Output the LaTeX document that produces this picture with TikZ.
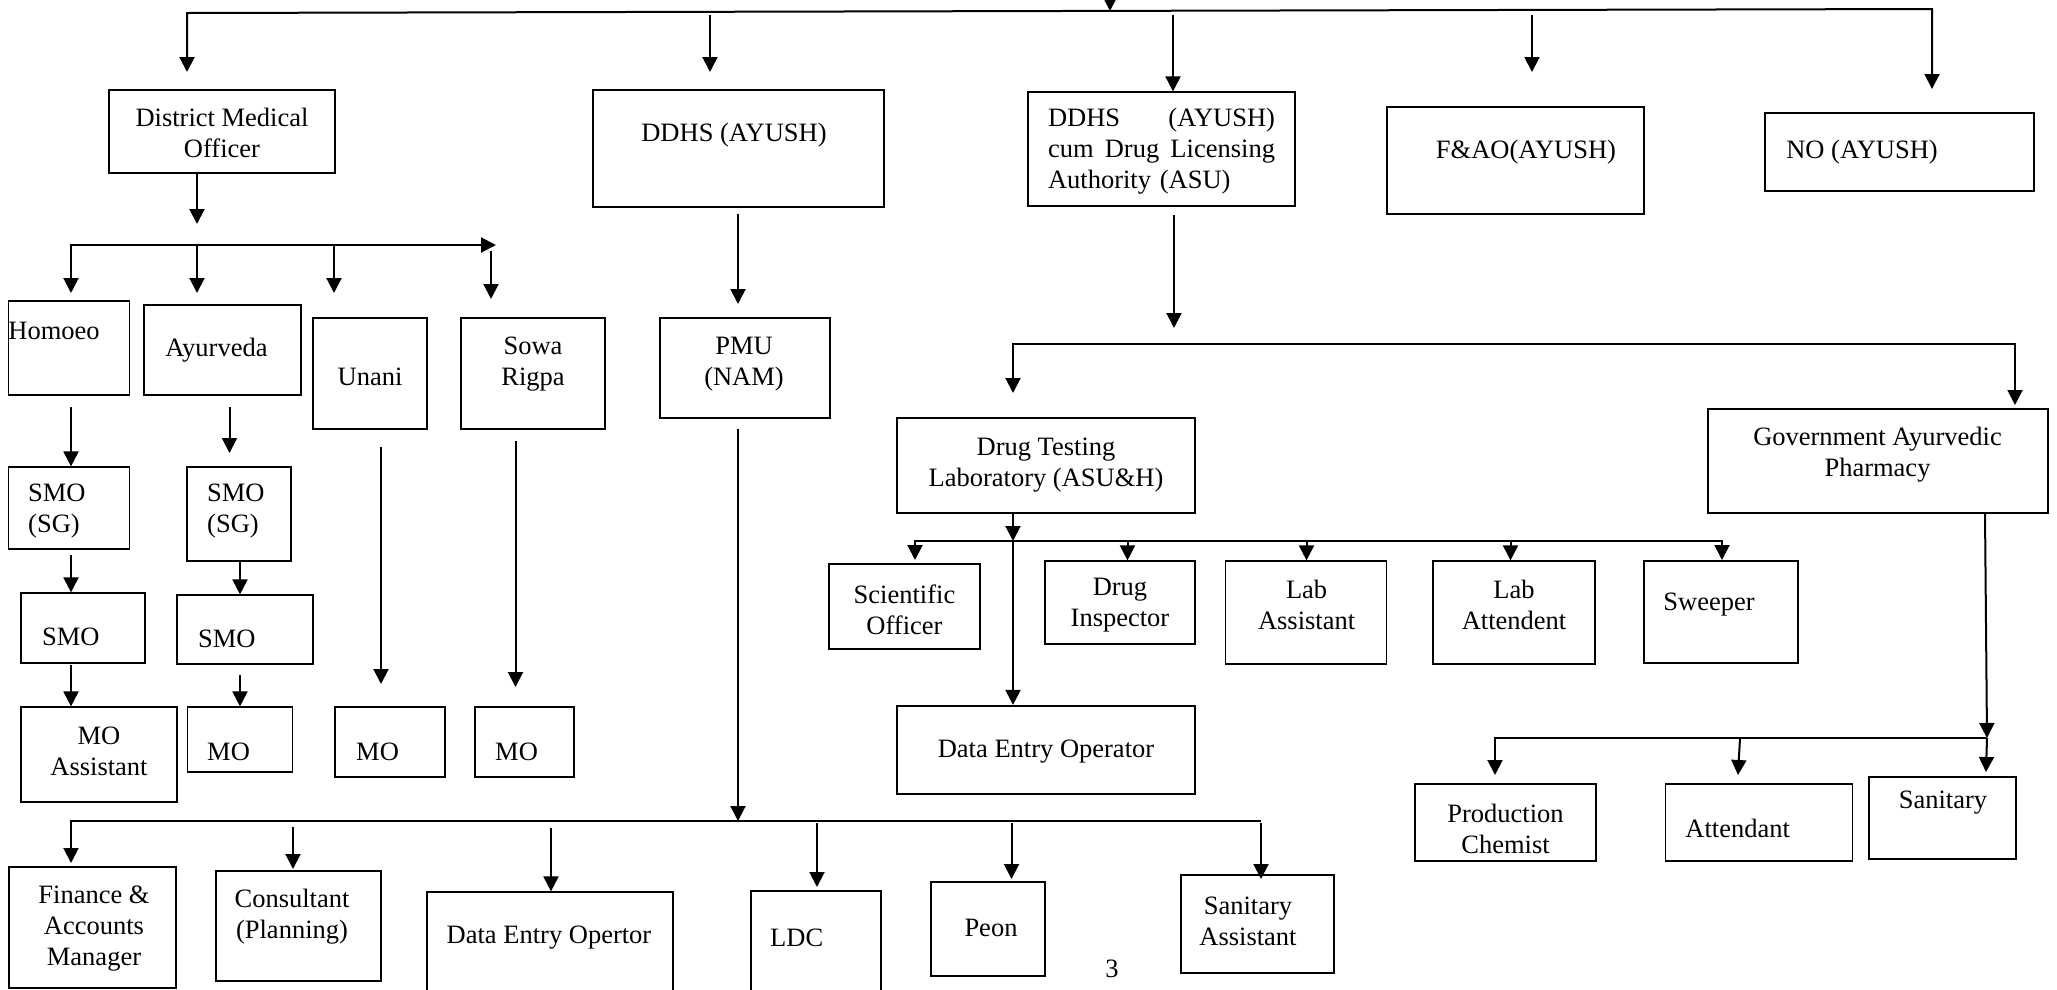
\documentclass[tikz,border=0pt]{standalone}
\usepackage{fontspec}
\setmainfont{Liberation Serif}
\usepackage{tikz}
\usetikzlibrary{arrows.meta}

\begin{document}
\begin{tikzpicture}[x=1pt, y=-1pt,
    box/.style={draw, line width=1.2pt, inner sep=0pt},
    txt/.style={inner sep=0pt, align=center, font=\fontsize{26.5}{31}\selectfont},
    link/.style={line width=2pt},
    arr/.style={line width=2pt, -{Triangle[length=15pt, width=15pt]}},
    arrs/.style={line width=2pt, {Triangle[length=15pt, width=15pt]}-{Triangle[length=15pt, width=15pt]}}]

    \useasboundingbox (0,0) rectangle (2057,989);

    % top row
    \node[box, minimum width=226pt, minimum height=83pt] (dmo) at (222,131.5) {};
    \node[box, minimum width=291pt, minimum height=117pt] (ddhs) at (738.5,148.5) {};
    \node[box, minimum width=267pt, minimum height=114pt] (cum) at (1161.5,149) {};
    \node[box, minimum width=257pt, minimum height=107pt] (fao) at (1515.5,160.5) {};
    \node[box, minimum width=269pt, minimum height=78pt] (nodal) at (1899.5,152) {};
    \node[txt] (dmol) at (222,132.5) {District Medical\\Officer};
    \node[txt] (ddhsl) at (734,135) {DDHS (AYUSH)};
    \node[txt, align=left, text width=227pt] (cuml) at (1161.5,151)
        {\makebox[227pt][l]{DDHS\hfill(AYUSH)}\\\makebox[227pt][l]{cum\hfill Drug\hfill Licensing}\\Authority (ASU)};
    \node[txt] (faol) at (1526,152) {F\&AO(AYUSH)};
    \node[txt] (nodall) at (1862,152) {NO (AYUSH)};

    % systems under DMO
    \node[box, minimum width=121pt, minimum height=94pt] (homoeo) at (69,348) {};
    \node[box, minimum width=157pt, minimum height=90pt] (ayur) at (222.5,350) {};
    \node[box, minimum width=114pt, minimum height=111pt] (unani) at (370,373.5) {};
    \node[box, minimum width=144pt, minimum height=111pt] (sowa) at (533,373.5) {};
    \node[box, minimum width=170pt, minimum height=100pt] (pmu) at (745,368) {};
    \node[txt] (homoeol) at (54,331) {Homoeo};
    \node[txt] (ayurl) at (216.5,350) {Ayurveda};
    \node[txt] (unanil) at (370,377) {Unani};
    \node[txt] (sowal) at (533,364) {Sowa\\Rigpa};
    \node[txt] (pmul) at (744,364) {PMU\\(NAM)};

    \node[box, minimum width=121pt, minimum height=82pt] (sg1) at (69,508) {};
    \node[box, minimum width=104pt, minimum height=94pt] (sg2) at (239,514) {};
    \node[box, minimum width=124pt, minimum height=70pt] (smo1) at (83,628) {};
    \node[box, minimum width=136pt, minimum height=69pt] (smo2) at (245,629.5) {};
    \node[box, minimum width=156pt, minimum height=95pt] (moa) at (99,754.5) {};
    \node[box, minimum width=105pt, minimum height=65pt] (mo1) at (240,739.5) {};
    \node[box, minimum width=110pt, minimum height=70pt] (mo2) at (390,742) {};
    \node[box, minimum width=99pt, minimum height=70pt] (mo3) at (524.5,742) {};
    \node[txt, anchor=west, align=left] (sg1l) at (28,511) {SMO\\(SG)};
    \node[txt, anchor=west, align=left] (sg2l) at (207,511) {SMO\\(SG)};
    \node[txt, anchor=west] (smo1l) at (42,637) {SMO};
    \node[txt, anchor=west] (smo2l) at (198,639) {SMO};
    \node[txt] (moal) at (99,751) {MO\\Assistant};
    \node[txt, anchor=west] (mo1l) at (207,752) {MO};
    \node[txt, anchor=west] (mo2l) at (356,752) {MO};
    \node[txt, anchor=west] (mo3l) at (495,752) {MO};

    % staff under PMU
    \node[box, minimum width=167pt, minimum height=121pt] (fin) at (92.5,927.5) {};
    \node[box, minimum width=165pt, minimum height=110pt] (cons) at (298.5,926) {};
    \node[box, minimum width=246pt, minimum height=118pt] (deob) at (550,951) {};
    \node[box, minimum width=130pt, minimum height=119pt] (ldc) at (816,950.5) {};
    \node[box, minimum width=114pt, minimum height=94pt] (peon) at (988,929) {};
    \node[box, minimum width=153pt, minimum height=98pt] (sana) at (1257.5,924) {};
    \node[txt] (finl) at (94,929) {Finance \&\\Accounts\\Manager};
    \node[txt] (consl) at (292,917) {Consultant\\(Planning)};
    \node[txt] (deobl) at (549,938) {Data Entry Opertor};
    \node[txt, anchor=west] (ldcl) at (770,938) {LDC};
    \node[txt] (peonl) at (991,928) {Peon};
    \node[txt] (sanal) at (1248,921) {Sanitary\\Assistant};
    \node[txt] (page) at (1112,969) {3};

    % drug testing and pharmacy
    \node[box, minimum width=298pt, minimum height=95pt] (dtl) at (1046,465.5) {};
    \node[box, minimum width=340pt, minimum height=104pt] (gap) at (1878,461) {};
    \node[box, minimum width=151pt, minimum height=85pt] (sci) at (904.5,606.5) {};
    \node[box, minimum width=150pt, minimum height=83pt] (dins) at (1120,602.5) {};
    \node[box, minimum width=161pt, minimum height=103pt] (lasst) at (1306,612.5) {};
    \node[box, minimum width=162pt, minimum height=103pt] (latt) at (1514,612.5) {};
    \node[box, minimum width=154pt, minimum height=102pt] (swp) at (1721,612) {};
    \node[box, line width=2.2pt, minimum width=298pt, minimum height=88pt] (deo) at (1046,750) {};
    \node[box, minimum width=181pt, minimum height=77pt] (chem) at (1505.5,822.5) {};
    \node[box, minimum width=187pt, minimum height=77pt] (att) at (1759,822.5) {};
    \node[box, minimum width=147pt, minimum height=82pt] (san) at (1942.5,818) {};
    \node[txt] (dtll) at (1046,465) {Drug Testing\\Laboratory (ASU\&H)};
    \node[txt] (gapl) at (1877.5,455) {Government Ayurvedic\\Pharmacy};
    \node[txt] (scil) at (904.5,610) {Scientific\\Officer};
    \node[txt] (dinsl) at (1120,605) {Drug\\Inspector};
    \node[txt] (lasstl) at (1306.6,605) {Lab\\Assistant};
    \node[txt] (lattl) at (1514,605) {Lab\\Attendent};
    \node[txt] (swpl) at (1709,605) {Sweeper};
    \node[txt] (deol) at (1046,752) {Data Entry Operator};
    \node[txt] (cheml) at (1505.5,829) {Production\\Chemist};
    \node[txt] (attl) at (1737.7,828) {Attendant};
    \node[txt] (sanl) at (1943,803) {Sanitary};

    % connectors, top row
    \coordinate (in) at (1110,-20);
    \coordinate (jT) at (1110,11);
    \coordinate (jL) at (187,13);
    \coordinate (jR) at (1932,9);
    \coordinate (dmoIn) at (187,72);
    \coordinate (nodalIn) at (1932,89);
    \draw[arr] (in) -- (jT);
    \draw[arrs] (dmoIn) -- (jL) -- (jR) -- (nodalIn);
    \coordinate (ddhsS) at (710,15);
    \coordinate (ddhsIn) at (710,72);
    \coordinate (cumS) at (1173,15);
    \coordinate (faoS) at (1532,15);
    \coordinate (faoIn) at (1532,72);
    \draw[arr] (ddhsS) -- (ddhsIn);
    \draw[arr] (cumS) -- (cumS |- cum.north);
    \draw[arr] (faoS) -- (faoIn);

    % connectors under DMO
    \coordinate (dmoOut) at (197,224);
    \draw[arr] (dmoOut |- dmo.south) -- (dmoOut);
    \coordinate (hL) at (71,245);
    \coordinate (hR) at (496,245);
    \coordinate (homIn) at (71,293);
    \draw[arrs] (homIn) -- (hL) -- (hR);
    \coordinate (hA) at (197,245);
    \coordinate (ayuIn) at (197,293);
    \coordinate (hU) at (334,245);
    \coordinate (unaIn) at (334,293);
    \coordinate (sowS) at (491,251);
    \coordinate (sowIn) at (491,299);
    \draw[arr] (hA) -- (ayuIn);
    \draw[arr] (hU) -- (unaIn);
    \draw[arr] (sowS) -- (sowIn);

    \coordinate (c1a) at (71,407);
    \coordinate (c1b) at (71,555);
    \coordinate (c1c) at (71,665);
    \draw[arr] (c1a) -- (c1a |- sg1.north);
    \draw[arr] (c1b) -- (c1b |- smo1.north);
    \draw[arr] (c1c) -- (c1c |- moa.north);
    \coordinate (c2a) at (229.5,407);
    \coordinate (c2b) at (229.5,453);
    \coordinate (c2c) at (240,561);
    \coordinate (c2d) at (240,675);
    \draw[arr] (c2a) -- (c2b);
    \draw[arr] (c2c) -- (c2c |- smo2.north);
    \draw[arr] (c2d) -- (c2d |- mo1.north);
    \coordinate (c3a) at (381,447);
    \coordinate (c3b) at (381,684);
    \coordinate (c4a) at (515.5,441);
    \coordinate (c4b) at (515.5,687);
    \draw[arr] (c3a) -- (c3b);
    \draw[arr] (c4a) -- (c4b);

    % connectors under DDHS and PMU
    \coordinate (pmuS) at (738,214);
    \coordinate (pmuIn) at (738,304);
    \draw[arr] (pmuS) -- (pmuIn);
    \coordinate (pmuOut) at (738,429);
    \coordinate (lT) at (738,821);
    \coordinate (lL) at (71,821);
    \coordinate (lR) at (1261,821);
    \coordinate (finIn) at (71,863);
    \draw[arr] (pmuOut) -- (lT);
    \draw[arr] (lR) -- (lL) -- (finIn);
    \coordinate (consS) at (293,827);
    \coordinate (consIn) at (293,869);
    \coordinate (deobS) at (551,828);
    \coordinate (ldcS) at (817,823);
    \coordinate (ldcIn) at (817,887);
    \coordinate (peonS) at (1011.5,823);
    \coordinate (peonIn) at (1011.5,879);
    \coordinate (sanaS) at (1261,823);
    \coordinate (sanaIn) at (1261,879);
    \draw[arr] (consS) -- (consIn);
    \draw[arr] (deobS) -- (deobS |- deob.north);
    \draw[arr] (ldcS) -- (ldcIn);
    \draw[arr] (peonS) -- (peonIn);
    \draw[arr] (sanaS) -- (sanaIn);

    % connectors under DDHS cum DLA
    \coordinate (cumOut) at (1174,215);
    \coordinate (cumT) at (1174,328);
    \draw[arr] (cumOut) -- (cumT);
    \coordinate (rL) at (1013,344);
    \coordinate (rR) at (2015,344);
    \coordinate (dtlIn) at (1013,393);
    \coordinate (gapIn) at (2015,405);
    \draw[arrs] (dtlIn) -- (rL) -- (rR) -- (gapIn);

    \coordinate (dJ) at (1013,541);
    \draw[arr] (dJ |- dtl.south) -- (dJ);
    \draw[arr] (dJ) -- (dJ |- deo.north);
    \coordinate (dL) at (915,541);
    \coordinate (dR) at (1722,541);
    \coordinate (sciIn) at (915,560);
    \coordinate (swpIn) at (1722,560);
    \draw[arrs] (sciIn) -- (dL) -- (dR) -- (swpIn);
    \coordinate (dinsS) at (1127.5,541);
    \coordinate (lasstS) at (1306.5,541);
    \coordinate (lattS) at (1510.5,541);
    \draw[arr] (dinsS) -- (dinsS |- dins.north);
    \draw[arr] (lasstS) -- (lasstS |- lasst.north);
    \draw[arr] (lattS) -- (lattS |- latt.north);

    \coordinate (gapOut) at (1985,513);
    \coordinate (pR) at (1987,738);
    \coordinate (pL) at (1495,738);
    \coordinate (chemIn) at (1495,775);
    \draw[arr] (gapOut) -- (pR);
    \draw[arr] (pR) -- (pL) -- (chemIn);
    \coordinate (attS) at (1740,738);
    \coordinate (attIn) at (1738,775);
    \coordinate (sanIn) at (1986,772);
    \draw[arr] (attS) -- (attIn);
    \draw[arr] (pR) -- (sanIn);
\end{tikzpicture}
\end{document}
